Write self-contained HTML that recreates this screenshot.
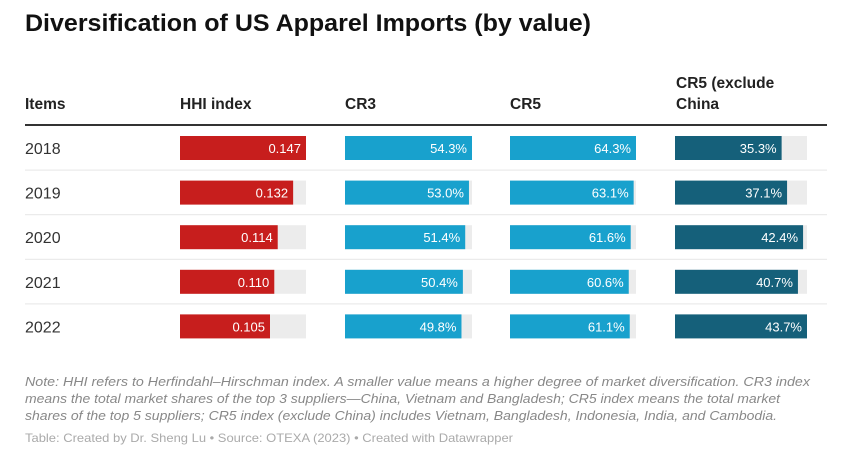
<!DOCTYPE html>
<html><head><meta charset="utf-8"><style>
body{margin:0;background:#fff;}
svg{display:block;font-family:"Liberation Sans",sans-serif;}
</style></head><body>
<svg id="c" width="842" height="460">
<text x="25" y="31" font-size="24" font-weight="bold" fill="#111" textLength="566" lengthAdjust="spacingAndGlyphs">Diversification of US Apparel Imports (by value)</text>
<g font-size="15.5" font-weight="bold" fill="#222">
<text x="25" y="109">Items</text>
<text x="180" y="109">HHI index</text>
<text x="345" y="109">CR3</text>
<text x="510" y="109">CR5</text>
<text x="676" y="88">CR5 (exclude</text>
<text x="676" y="109">China</text>
</g>
<rect x="25" y="124" width="802" height="2" fill="#333"/>
<g id="rows"></g>
<g font-size="13" font-style="italic" fill="#888">
<text x="25" y="386" textLength="785" lengthAdjust="spacingAndGlyphs">Note: HHI refers to Herfindahl–Hirschman index. A smaller value means a higher degree of market diversification. CR3 index</text>
<text x="25" y="403" textLength="755" lengthAdjust="spacingAndGlyphs">means the total market shares of the top 3 suppliers—China, Vietnam and Bangladesh; CR5 index means the total market</text>
<text x="25" y="420" textLength="752" lengthAdjust="spacingAndGlyphs">shares of the top 5 suppliers; CR5 index (exclude China) includes Vietnam, Bangladesh, Indonesia, India, and Cambodia.</text>
</g>
<text x="25" y="442" font-size="12" fill="#aaa" textLength="488" lengthAdjust="spacingAndGlyphs">Table: Created by Dr. Sheng Lu • Source: OTEXA (2023) • Created with Datawrapper</text>
</svg>
<script>
const years = ["2018","2019","2020","2021","2022"];
const hhi = [0.147,0.132,0.114,0.110,0.105];
const cr3 = [54.3,53.0,51.4,50.4,49.8];
const cr5 = [64.3,63.1,61.6,60.6,61.1];
const cr5ex = [35.3,37.1,42.4,40.7,43.7];

const NS="http://www.w3.org/2000/svg";
const g=document.getElementById('rows');
function mk(t,a){const e=document.createElementNS(NS,t);for(const k in a)e.setAttribute(k,a[k]);g.appendChild(e);return e;}
const cols=[
 {vals:hhi,x:180,w:126,color:"#c71e1d",fmt:v=>v.toFixed(3),name:"hhi"},
 {vals:cr3,x:345,w:127,color:"#18a1cd",fmt:v=>v.toFixed(1)+"%",name:"cr3"},
 {vals:cr5,x:510,w:126,color:"#18a1cd",fmt:v=>v.toFixed(1)+"%",name:"cr5"},
 {vals:cr5ex,x:675,w:132,color:"#15607a",fmt:v=>v.toFixed(1)+"%",name:"cr5-ex-china"}
];
const rowY=i=>148+i*44.6;
years.forEach((yr,i)=>{
  const cy=rowY(i);
  if(i>0){const l=mk('rect',{x:25,y:cy-23,width:802,height:1,fill:"#e6e6e6"});
  
  }
  const t=mk('text',{x:25,y:cy+6,'font-size':16,fill:"#333"});t.textContent=yr;
  
  
  cols.forEach(c=>{
    const mx=Math.max(...c.vals);
    const bg=mk('rect',{x:c.x,y:cy-12,width:c.w,height:24,fill:"#ececec"});
    
    
    const bw=c.w*c.vals[i]/mx;
    const b=mk('rect',{x:c.x,y:cy-12,width:bw,height:24,fill:c.color});
    
    
    const v=mk('text',{x:c.x+bw-5,y:cy+5,'font-size':13,fill:"#fff",'text-anchor':"end"});
    v.textContent=c.fmt(c.vals[i]);
    
    
  });
});
</script>
</body></html>
